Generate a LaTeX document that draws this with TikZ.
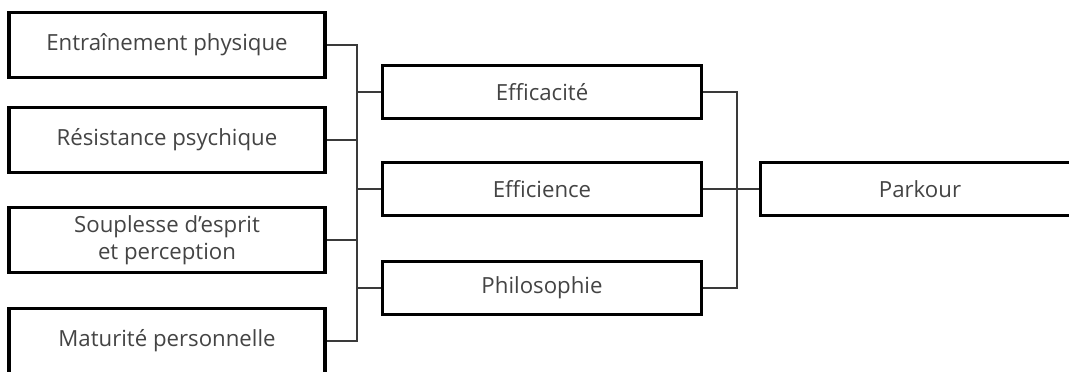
\documentclass[tikz,border=0pt]{standalone}
\usepackage{fontspec}
\setmainfont{Open Sans}
\usepackage{tikz}
\usetikzlibrary{positioning}
\definecolor{txtgray}{HTML}{444444}
\definecolor{linegray}{HTML}{3A3A3A}
\tikzset{
    box/.style={draw=black, line width=2.5pt, fill=white, text=txtgray, align=center,
        font=\fontsize{15.8}{19}\selectfont, inner sep=0pt},
    leftbox/.style={box, minimum width=316*0.025cm, minimum height=65*0.025cm},
    midbox/.style={box, minimum width=319*0.025cm, minimum height=53*0.025cm},
    link/.style={draw=linegray, line width=0.8pt}
}

\begin{document}
\begin{tikzpicture}[x=0.025cm, y=-0.025cm]
  \useasboundingbox (0,0) rectangle (1069,371);
  \node[leftbox] (ent) at (167,45) {Entraînement physique};
  \node[leftbox] (res) at (167,140) {Résistance psychique};
  \node[leftbox] (sou) at (167,240) {Souplesse d’esprit\\et perception};
  \node[leftbox] (mat) at (167,341) {Maturité personnelle};
  \node[midbox] (effa) at (542,92) {Efficacité};
  \node[midbox] (effi) at (542,189) {Efficience};
  \node[midbox] (phil) at (542,288) {Philosophie};
  \node[midbox] (park) at (920,189) {Parkour};
  \coordinate (jl) at (357,0);
  \coordinate (jr) at (737,0);
  \draw[link] (ent.east) -- (ent.east -| jl) -- (mat.east -| jl) -- (mat.east);
  \draw[link] (res.east) -- (res.east -| jl);
  \draw[link] (sou.east) -- (sou.east -| jl);
  \draw[link] (effa.west) -- (effa.west -| jl);
  \draw[link] (effi.west) -- (effi.west -| jl);
  \draw[link] (phil.west) -- (phil.west -| jl);
  \draw[link] (effa.east) -- (effa.east -| jr) -- (phil.east -| jr) -- (phil.east);
  \draw[link] (effi.east) -- (park.west);
\end{tikzpicture}
\end{document}
